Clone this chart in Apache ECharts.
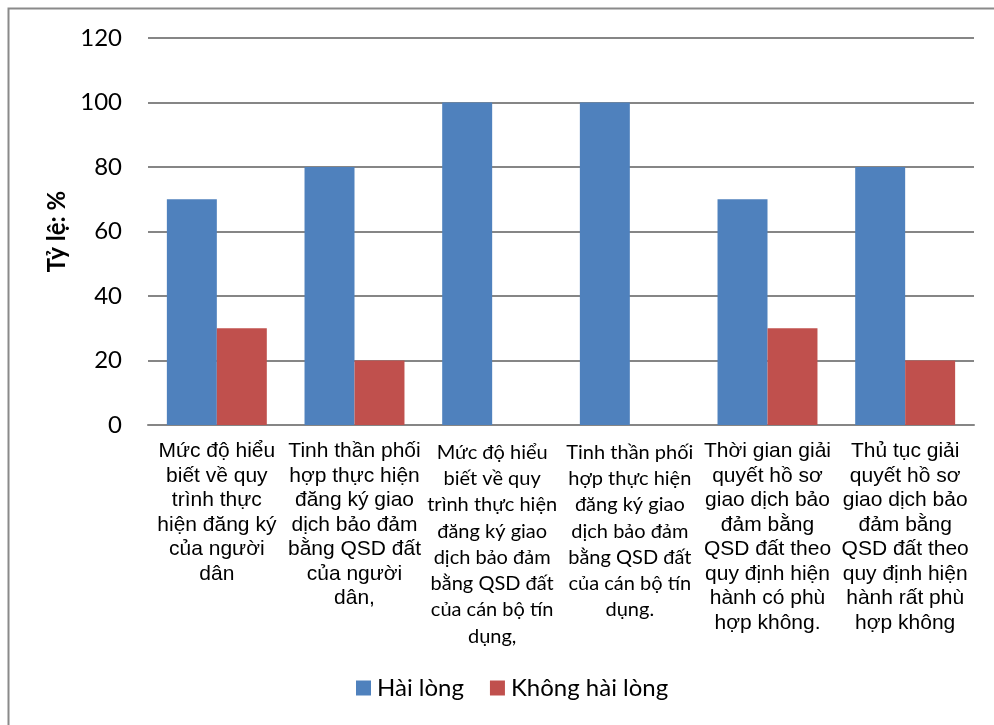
<!DOCTYPE html>
<html>
<head>
<meta charset="utf-8">
<script src="https://cdn.jsdelivr.net/npm/echarts@6/dist/echarts.min.js"></script>
<style>
  html, body { margin: 0; padding: 0; background: #fff; }
  #chart { width: 994px; height: 725px; }
</style>
</head>
<body>
<div id="chart"></div>
<script>
// Survey categories (line breaks as laid out under each column)
const categories = [
  'Mức độ hiểu\nbiết về quy\ntrình thực\nhiện đăng ký\ncủa người\ndân',
  'Tinh thần phối\nhợp thực hiện\nđăng ký giao\ndịch bảo đảm\nbằng QSD đất\ncủa người\ndân,',
  'Mức độ hiểu\nbiết về quy\ntrình thực hiện\nđăng ký giao\ndịch bảo đảm\nbằng QSD đất\ncủa cán bộ tín\ndụng,',
  'Tinh thần phối\nhợp thực hiện\nđăng ký giao\ndịch bảo đảm\nbằng QSD đất\ncủa cán bộ tín\ndụng.',
  'Thời gian giải\nquyết hồ sơ\ngiao dịch bảo\nđảm bằng\nQSD đất theo\nquy định hiện\nhành có phù\nhợp không.',
  'Thủ tục giải\nquyết hồ sơ\ngiao dịch bảo\nđảm bằng\nQSD đất theo\nquy định hiện\nhành rất phù\nhợp không'
];
// Label typeface per category: 'a' = sans (Arial-like), 'b' = humanist
const labelStyle = ['a', 'a', 'b', 'b', 'a', 'a'];

const seriesNames = ['Hài lòng', 'Không hài lòng'];
const satisfied = [70, 80, 100, 100, 70, 80];
const unsatisfied = [30, 20, 0, 0, 30, 20];

const yMin = 0, yMax = 120, yStep = 20;
const yTitle = 'Tỷ lệ: %';

const chart = echarts.init(document.getElementById('chart'), null, { renderer: 'canvas' });

chart.setOption({
  animation: false,
  backgroundColor: '#fff',
  color: ['#4F81BD', '#C0504D'],
  graphic: [{
    type: 'rect',
    shape: { x: 8.5, y: 8.5, width: 1000, height: 800 },
    style: { fill: 'none', stroke: '#8a8a8a', lineWidth: 2 },
    silent: true
  }],
  grid: { left: 148, right: 20, top: 38, bottom: 300, containLabel: false },
  legend: {
    data: seriesNames,
    top: 671,
    left: 351,
    itemWidth: 15,
    itemHeight: 15,
    itemGap: 26,
    icon: 'rect',
    textStyle: { fontFamily: 'Lato', fontSize: 24, color: '#000', padding: [0, 0, 0, 1] }
  },
  xAxis: {
    type: 'category',
    data: categories,
    axisLine: { lineStyle: { color: '#868686', width: 2 } },
    axisTick: { show: false },
    axisLabel: {
      interval: 0,
      margin: 14,
      formatter: function (v, i) {
        const k = labelStyle[i];
        return v.split('\n').map(function (line) { return '{' + k + '|' + line + '}'; }).join('\n');
      },
      rich: {
        a: { fontFamily: 'Liberation Sans', fontSize: 21, lineHeight: 24.5, color: '#000', align: 'center' },
        b: { fontFamily: 'Lato', fontSize: 20, lineHeight: 26.3, color: '#000', align: 'center' }
      }
    }
  },
  yAxis: {
    type: 'value',
    min: yMin,
    max: yMax,
    interval: yStep,
    name: yTitle,
    nameLocation: 'middle',
    nameGap: 74,
    nameRotate: 90,
    nameTextStyle: { fontFamily: 'Lato', fontWeight: 'bold', fontSize: 24, color: '#000' },
    axisLine: { show: false },
    axisTick: { show: false },
    axisLabel: { fontFamily: 'Lato', fontSize: 24, color: '#000', margin: 26 },
    splitLine: { lineStyle: { color: '#868686', width: 2 } }
  },
  series: [
    { name: seriesNames[0], type: 'bar', data: satisfied, barGap: '0%', barCategoryGap: '27.4%' },
    { name: seriesNames[1], type: 'bar', data: unsatisfied, barGap: '0%', barCategoryGap: '27.4%' }
  ]
});
</script>
</body>
</html>
